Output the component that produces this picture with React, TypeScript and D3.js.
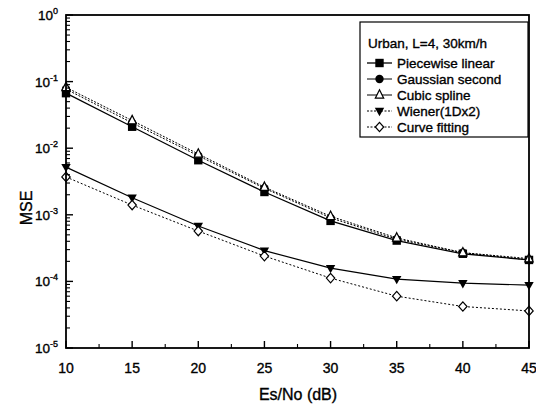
import React from "react";
import * as d3 from "d3";

// Es/No (dB) points
const snr = [10, 15, 20, 25, 30, 35, 40, 45];

const piecewise = [0.067, 0.021, 0.0066, 0.0022, 0.00081, 0.00041, 0.00026, 0.00021];
const gaussian = [0.077, 0.024, 0.0077, 0.0025, 0.0009, 0.00043, 0.00027, 0.00021];
const cubic = [0.082, 0.026, 0.0082, 0.0026, 0.00095, 0.00045, 0.00027, 0.00022];
const wiener = [0.0052, 0.0018, 0.00068, 0.00029, 0.000158, 0.000108, 0.000094, 0.000088];
const curveFit = [0.0037, 0.0014, 0.00057, 0.00024, 0.000112, 0.00006, 0.000042, 0.000036];

const legendTitle = "Urban, L=4, 30km/h";
const seriesNames = ["Piecewise linear", "Gaussian second", "Cubic spline", "Wiener(1Dx2)", "Curve fitting"];
const xTicks = [10, 15, 20, 25, 30, 35, 40, 45];
const yExps = [0, -1, -2, -3, -4, -5];

const font = "Arial, 'Liberation Sans', Helvetica, sans-serif";

type Marker = "square" | "circle" | "triangle" | "down" | "diamond";

function MarkerShape({ kind, x, y }: { kind: Marker; x: number; y: number }) {
  const s = 4.2;
  if (kind === "square")
    return <rect x={x - s} y={y - s} width={s * 2} height={s * 2} fill="#000" />;
  if (kind === "circle") return <circle cx={x} cy={y} r={s} fill="#000" />;
  if (kind === "triangle")
    return (
      <path
        d={`M${x},${y - s - 1}L${x + s},${y + s - 1}L${x - s},${y + s - 1}Z`}
        fill="#fff"
        stroke="#000"
        strokeWidth={1.2}
      />
    );
  if (kind === "down")
    return <path d={`M${x - s - 0.5},${y - s + 1}L${x + s + 0.5},${y - s + 1}L${x},${y + s + 1}Z`} fill="#000" />;
  return (
    <path
      d={`M${x},${y - s - 0.5}L${x + s},${y}L${x},${y + s + 0.5}L${x - s},${y}Z`}
      fill="#fff"
      stroke="#000"
      strokeWidth={1.2}
    />
  );
}

export default function App() {
  const width = 536;
  const height = 412;
  const left = 66, right = 529, top = 15, bottom = 348;

  const x = d3.scaleLinear().domain([10, 45]).range([left, right]);
  const y = d3.scaleLog().domain([1e-5, 1]).range([bottom, top]);

  const series: { values: number[]; marker: Marker; dash?: string; w: number }[] = [
    { values: piecewise, marker: "square", w: 1.3 },
    { values: gaussian, marker: "circle", w: 1, dash: "2,1.5" },
    { values: cubic, marker: "triangle", w: 1, dash: "2,1.5" },
    { values: wiener, marker: "down", w: 1.2 },
    { values: curveFit, marker: "diamond", w: 1, dash: "2,2" },
  ];

  const line = d3
    .line<number>()
    .x((_, i) => x(snr[i]))
    .y((d) => y(d));

  const minorY: number[] = [];
  for (let e = -5; e < 0; e++) for (let m = 2; m <= 9; m++) minorY.push(m * Math.pow(10, e));
  const minorX = d3.range(12.5, 45, 5);

  const legX = 360, legY = 22, legW = 168, legH = 115;
  const thick = { stroke: "#000", strokeWidth: 0.35 };

  return (
    <svg
      width={width}
      height={height}
      style={{ position: "absolute", left: 0, top: 0, background: "#fff" }}
      fontFamily={font}
    >
      <rect width={width} height={height} fill="#fff" />

      {/* series */}
      <g>
        {series.map((s, k) => (
          <path key={k} d={line(s.values) || ""} fill="none" stroke="#000" strokeWidth={s.w} strokeDasharray={s.dash} />
        ))}
        {series.map((s, k) =>
          s.values.map((v, i) => <MarkerShape key={`${k}-${i}`} kind={s.marker} x={x(snr[i])} y={y(v)} />)
        )}
      </g>

      {/* frame */}
      <rect x={left} y={top} width={right - left} height={bottom - top} fill="none" stroke="#000" strokeWidth={1.8} />

      {/* y ticks */}
      {yExps.map((e) => (
        <line key={e} x1={left} x2={left + 7} y1={y(Math.pow(10, e))} y2={y(Math.pow(10, e))} stroke="#000" strokeWidth={1.4} />
      ))}
      {minorY.map((v, i) => (
        <line key={i} x1={left} x2={left + 4} y1={y(v)} y2={y(v)} stroke="#000" strokeWidth={1.1} />
      ))}
      {yExps.map((e) => (
        <text key={e} x={left - 8} y={y(Math.pow(10, e)) + 5} textAnchor="end" fontSize={13.5} fill="#000" {...thick}>
          10
          <tspan dy={-6} fontSize={9}>
            {e}
          </tspan>
        </text>
      ))}

      {/* x ticks */}
      {xTicks.map((t) => (
        <line key={t} x1={x(t)} x2={x(t)} y1={bottom} y2={bottom - 7} stroke="#000" strokeWidth={1.4} />
      ))}
      {minorX.map((t) => (
        <line key={t} x1={x(t)} x2={x(t)} y1={bottom} y2={bottom - 4} stroke="#000" strokeWidth={1.1} />
      ))}
      {xTicks.map((t) => (
        <text key={t} x={x(t)} y={bottom + 25} textAnchor="middle" fontSize={14} fill="#000" {...thick}>
          {t}
        </text>
      ))}

      {/* axis titles */}
      <text x={298} y={400} textAnchor="middle" fontSize={16} fill="#000" {...thick}>
        Es/No (dB)
      </text>
      <text transform="translate(32,208) rotate(-90)" textAnchor="middle" fontSize={16} fill="#000" {...thick}>
        MSE
      </text>

      {/* legend */}
      <rect x={legX} y={legY} width={legW} height={legH} fill="#fff" stroke="#000" strokeWidth={1.2} />
      <text x={legX + 8} y={legY + 26} fontSize={13.5} fill="#000" {...thick}>
        {legendTitle}
      </text>
      {seriesNames.map((name, i) => {
        const yy = legY + 41 + i * 16;
        const s = series[i];
        return (
          <g key={name}>
            <line x1={legX + 7} x2={legX + 32} y1={yy} y2={yy} stroke="#000" strokeWidth={s.w} strokeDasharray={i >= 3 ? "2,1.5" : undefined} />
            <MarkerShape kind={s.marker} x={legX + 19.5} y={yy} />
            <text x={legX + 37} y={yy + 5} fontSize={13.5} fill="#000" {...thick}>
              {name}
            </text>
          </g>
        );
      })}
    </svg>
  );
}
